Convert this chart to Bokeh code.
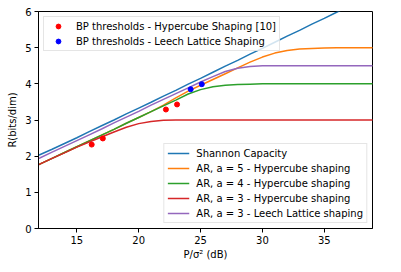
from bokeh.plotting import figure
from bokeh.models import Range1d, FixedTicker, Legend, LegendItem
from bokeh.embed import file_html
from bokeh.resources import INLINE

# ---- data ----
snr_db = [11, 12, 13, 14, 15, 16, 17, 18, 19, 20, 21, 22, 23, 24, 25,
          26, 27, 28, 29, 30, 31, 32, 33, 34, 35, 36, 37, 38, 39]
shannon = [1.88, 2.04, 2.19, 2.35, 2.51, 2.68, 2.84, 3.00, 3.17, 3.33, 3.49, 3.66, 3.82, 3.99, 4.15,
           4.32, 4.49, 4.65, 4.82, 4.98, 5.15, 5.32, 5.48, 5.65, 5.81, 5.98, 6.15, 6.31, 6.48]
ar_a5_hyper = [1.63, 1.78, 1.94, 2.10, 2.26, 2.42, 2.58, 2.74, 2.91, 3.07, 3.23, 3.41, 3.61, 3.80, 3.96,
               4.12, 4.28, 4.44, 4.60, 4.74, 4.85, 4.92, 4.96, 4.98, 4.99, 5.00, 5.00, 5.00, 5.00]
ar_a4_hyper = [1.63, 1.78, 1.94, 2.10, 2.26, 2.42, 2.58, 2.74, 2.91, 3.07, 3.23, 3.39, 3.55, 3.72, 3.84,
               3.92, 3.96, 3.98, 3.99, 4.00, 4.00, 4.00, 4.00, 4.00, 4.00, 4.00, 4.00, 4.00, 4.00]
ar_a3_hyper = [1.63, 1.78, 1.94, 2.09, 2.25, 2.39, 2.53, 2.67, 2.80, 2.90, 2.96, 2.99, 3.00, 3.00, 3.00,
               3.00, 3.00, 3.00, 3.00, 3.00, 3.00, 3.00, 3.00, 3.00, 3.00, 3.00, 3.00, 3.00, 3.00]
ar_a3_leech = [1.80, 1.95, 2.11, 2.27, 2.43, 2.59, 2.75, 2.92, 3.08, 3.24, 3.41, 3.57, 3.73, 3.89, 4.05,
               4.20, 4.34, 4.43, 4.48, 4.50, 4.50, 4.50, 4.50, 4.50, 4.50, 4.50, 4.50, 4.50, 4.50]

bp_hyper_x = [16.2, 17.1, 22.2, 23.1]
bp_hyper_y = [2.32, 2.49, 3.29, 3.43]
bp_leech_x = [24.2, 25.1]
bp_leech_y = [3.85, 3.99]

x_ticks = [15, 20, 25, 30, 35]
y_ticks = [0, 1, 2, 3, 4, 5, 6]

line_names = ["Shannon Capacity",
              "AR, a = 5 - Hypercube shaping",
              "AR, a = 4 - Hypercube shaping",
              "AR, a = 3 - Hypercube shaping",
              "AR, a = 3 - Leech Lattice shaping"]
line_series = [shannon, ar_a5_hyper, ar_a4_hyper, ar_a3_hyper, ar_a3_leech]
line_colors = ["#1f77b4", "#ff7f0e", "#2ca02c", "#d62728", "#9467bd"]

FONT = "DejaVu Sans"

p = figure(width=401, height=272, output_backend="svg", toolbar_location=None,
           x_range=Range1d(11.9, 38.9), y_range=Range1d(0, 6),
           min_border_left=38, min_border_right=29, min_border_top=11, min_border_bottom=44)

p.grid.visible = False
p.outline_line_color = "black"
p.outline_line_width = 1
p.background_fill_color = "white"
p.border_fill_color = "white"

p.xaxis.ticker = FixedTicker(ticks=x_ticks)
p.yaxis.ticker = FixedTicker(ticks=y_ticks)
for ax in (p.xaxis, p.yaxis):
    ax.axis_line_color = "black"
    ax.major_tick_line_color = "black"
    ax.major_tick_in = 0
    ax.major_tick_out = 4
    ax.minor_tick_line_color = None
    ax.major_label_text_font = FONT
    ax.major_label_text_font_size = "10px"
    ax.major_label_text_color = "black"
    ax.major_label_standoff = 3
    ax.axis_label_text_font = FONT
    ax.axis_label_text_font_size = "10px"
    ax.axis_label_text_font_style = "normal"
    ax.axis_label_text_color = "black"
    ax.axis_label_standoff = 4
p.xaxis.axis_label_standoff = 2
p.xaxis.axis_label = "P/σ² (dB)"
p.yaxis.axis_label = "R(bits/dim)"

line_items = []
for name, ys, col in zip(line_names, line_series, line_colors):
    r = p.line(snr_db, ys, line_color=col, line_width=1.5)
    line_items.append(LegendItem(label=name, renderers=[r]))

s1 = p.scatter(bp_hyper_x, bp_hyper_y, size=5, fill_color="red", line_color="red")
s2 = p.scatter(bp_leech_x, bp_leech_y, size=5, fill_color="blue", line_color="blue")
scatter_items = [LegendItem(label="BP thresholds - Hypercube Shaping [10]", renderers=[s1]),
                 LegendItem(label="BP thresholds - Leech Lattice Shaping", renderers=[s2])]


def style_legend(lg):
    lg.label_text_font = FONT
    lg.label_text_font_size = "10px"
    lg.label_text_color = "black"
    lg.label_height = 12
    lg.glyph_height = 12
    lg.glyph_width = 22
    lg.label_standoff = 7
    lg.spacing = 3
    lg.padding = 3
    lg.margin = 5
    lg.border_line_color = "#cccccc"
    lg.border_line_width = 1
    lg.background_fill_color = "white"
    lg.background_fill_alpha = 0.8


leg1 = Legend(items=scatter_items, location="top_left")
leg2 = Legend(items=line_items, location="bottom_right")
style_legend(leg1)
style_legend(leg2)
p.add_layout(leg1)
p.add_layout(leg2)

open("out.html", "w").write(file_html(p, INLINE))
